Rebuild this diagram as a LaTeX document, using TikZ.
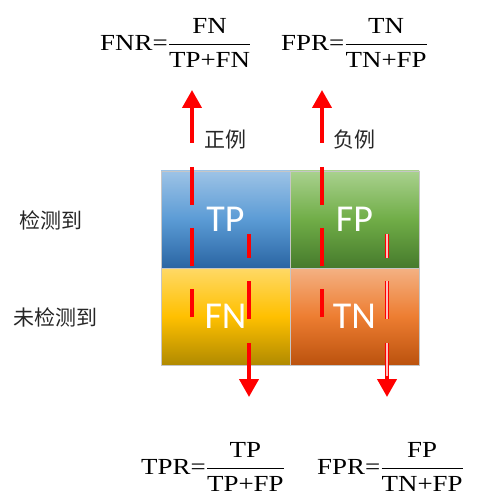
\documentclass[tikz,border=0pt]{standalone}
\usepackage{amsmath, graphicx}
\usepackage{fontspec}
\setmainfont{Liberation Serif}
\newfontfamily\cjk{Noto Sans CJK SC}
\newfontfamily\cellfont{Carlito}
\usepackage{tikz}
\usetikzlibrary{positioning,arrows.meta}
\usepackage{xcolor}
\definecolor{TPtop}{HTML}{9DC3E6}
\definecolor{TPmid}{HTML}{5B9BD5}
\definecolor{TPbot}{HTML}{2A65A3}
\definecolor{FPtop}{HTML}{A9D18E}
\definecolor{FPmid}{HTML}{70AD47}
\definecolor{FPbot}{HTML}{467A2C}
\definecolor{FNtop}{HTML}{FFD966}
\definecolor{FNmid}{HTML}{FFC000}
\definecolor{FNbot}{HTML}{B08A00}
\definecolor{TNtop}{HTML}{F4B183}
\definecolor{TNmid}{HTML}{ED7D31}
\definecolor{TNbot}{HTML}{BB520E}
\definecolor{ArrowRed}{RGB}{255,0,0}
\newcommand{\ratefrac}[2]{\dfrac{\text{#1}}{\rule{0pt}{20pt}\text{#2}}}

\begin{document}
\begin{tikzpicture}[
    x=1pt, y=-1pt,
    node distance=0pt,
    cell/.style={rectangle, draw=gray!45, line width=0.8pt, outer sep=0pt, inner sep=0pt,
        minimum width=129pt, minimum height=97pt, text=white,
        font=\cellfont\fontsize{38}{38}\selectfont},
    sidelabel/.style={font=\cjk\fontsize{21}{23}\selectfont, text=black!85},
    formula/.style={font=\fontsize{23}{25}\selectfont, inner sep=0pt, anchor=west},
    redline/.style={draw=ArrowRed, line width=4pt},
    dashedred/.style={redline, dash pattern=on 38pt off 23pt},
    redarrow/.style={redline, -{Triangle[width=19pt,length=18pt]}}
]
\useasboundingbox (0,0) rectangle (482,502);
% the four cells
\node[cell, top color=TPtop, bottom color=TPbot, middle color=TPmid] (tp) at (225.5,219.5) {TP};
\node[cell, top color=FPtop, bottom color=FPbot, middle color=FPmid, right=of tp] (fp) {FP};
\node[cell, top color=FNtop, bottom color=FNbot, middle color=FNmid, below=of tp] (fn) {FN};
\node[cell, top color=TNtop, bottom color=TNbot, middle color=TNmid, below=of fp] (tn) {TN};
% row and column labels
\node[sidelabel] (det) at (51,220) {检测到};
\node[sidelabel] (undet) at (55,317) {未检测到};
\node[sidelabel] (pos) at (225,140) {正例};
\node[sidelabel] (neg) at (354,140) {负例};
% rates
\node[formula] (fnr) at (100,43) {\scalebox{1.17}[1]{FNR=$\ratefrac{FN}{TP+FN}$}};
\node[formula] (fprtop) at (281,43) {\scalebox{1.17}[1]{FPR=$\ratefrac{TN}{TN+FP}$}};
\node[formula] (tpr) at (141,467) {\scalebox{1.17}[1]{TPR=$\ratefrac{TP}{TP+FP}$}};
\node[formula] (fprbot) at (317,467) {\scalebox{1.17}[1]{FPR=$\ratefrac{FP}{TN+FP}$}};
% up arrows
\coordinate (posa) at (192,167);
\coordinate (posb) at (192,317);
\coordinate (posc) at (192,143);
\coordinate (posd) at (192,90);
\coordinate (nega) at (322,167);
\coordinate (negb) at (322,317);
\coordinate (negc) at (322,143);
\coordinate (negd) at (322,90);
\draw[dashedred] (posa) -- (posb);
\draw[redarrow] (posc) -- (posd);
\draw[dashedred] (nega) -- (negb);
\draw[redarrow] (negc) -- (negd);
% down arrows
\coordinate (tpra) at (249,234);
\coordinate (tprb) at (249,320);
\coordinate (tprc) at (249,343);
\coordinate (tprd) at (249,397);
\coordinate (fpra) at (387,234);
\coordinate (fprb) at (387,320);
\coordinate (fprc) at (387,343);
\coordinate (fprd) at (387,397);
\coordinate (fpre) at (387,376);
\draw[dashedred, dash phase=14pt] (tpra) -- (tprb);
\draw[redarrow] (tprc) -- (tprd);
\draw[dashedred, dash phase=14pt] (fpra) -- (fprb);
\draw[redarrow] (fprc) -- (fprd);
\draw[red!25, line width=1.3pt, dash pattern=on 38pt off 23pt, dash phase=14pt] (fpra) -- (fprb);
\draw[red!25, line width=1.3pt] (fprc) -- (fpre);
\end{tikzpicture}
\end{document}
